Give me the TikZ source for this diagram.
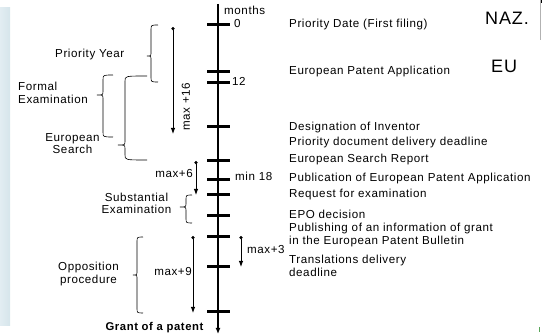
\documentclass[tikz,border=0pt]{standalone}
\usepackage{fontspec}
\setmainfont[LetterSpace=5]{Liberation Sans}
\usetikzlibrary{arrows.meta}
\newcommand\mybrace[6]{%
  \draw[brc] (#1,#4) .. controls (#2,#4) .. (#2,{#4+5}) -- (#2,{#5-4})
    .. controls (#2,#5) .. (#3,#5) .. controls (#2,#5) .. (#2,{#5+4})
    -- (#2,{#6-5}) .. controls (#2,#6) .. (#1,#6);}
\begin{document}
\begin{tikzpicture}[x=1pt,y=-1pt,
  font=\fontsize{11.6}{12.5}\selectfont,
  txt/.style={inner sep=0pt, anchor=mid west},
  mtxt/.style={inner sep=0pt, anchor=west, align=left},
  ctxt/.style={inner sep=0pt, align=center},
  tick/.style={line width=3pt},
  brc/.style={line width=0.6pt},
  span/.style={line width=0.9pt, {Circle[length=3.2pt]}-{Latex[length=6pt,width=4.5pt]}},
  big/.style={inner sep=0pt, font=\fontsize{18}{20}\selectfont}]
\useasboundingbox (0,0) rectangle (542,336);
\fill[left color={rgb,255:red,226;green,237;blue,242}, right color={rgb,255:red,214;green,229;blue,235}] (0,8) rectangle (10,326);
\draw[gray!60, line width=0.5pt] (540,0) -- (540,40);
\draw[line width=1pt] (541.5,0) -- (541.5,3);
\draw[gray!70!green, line width=1pt] (539,327) -- (539,332);
% main axis
\coordinate (atop) at (218,4);
\coordinate (abot) at (218,334);
\draw[line width=1.8pt, -{Latex[length=6pt,width=5pt]}] (atop) -- (abot);
\foreach \y in {25,72,83,127,161,180,195,216,237,267,312}
  \draw[tick] (207,\y) -- (230,\y);
% axis labels
\node[txt] (months) at (224,12) {months};
\node[txt] (m0) at (234,25) {0};
\node[txt] (m12) at (232,83) {12};
\node[txt] (m18) at (235,178) {min 18};
% right texts
\node[txt] (t1) at (289,25) {Priority Date (First filing)};
\node[big, anchor=mid west] (naz) at (485,22) {NAZ.};
\node[txt] (t2) at (289,72) {European Patent Application};
\node[big, anchor=mid west] (eu) at (491,70) {EU};
\node[txt] (t3) at (289,128) {Designation of Inventor};
\node[txt] (t4) at (289,143) {Priority document delivery deadline};
\node[txt] (t5) at (289,160) {European Search Report};
\node[txt] (t6) at (289,179) {Publication of European Patent Application};
\node[txt] (t7) at (289,195) {Request for examination};
\node[txt] (t8) at (289,216) {EPO decision};
\node[mtxt] (t9) at (289,235) {Publishing of an information of grant\\in the European Patent Bulletin};
\node[mtxt] (t10) at (289,266) {Translations delivery\\deadline};
% left labels
\node[txt] (py) at (55,55) {Priority Year};
\node[mtxt] (fe) at (18,93) {Formal\\Examination};
\node[ctxt] (es) at (72.5,143.5) {European\\Search};
\node[ctxt] (se) at (136.5,203.5) {Substantial\\Examination};
\node[ctxt] (op) at (88.5,274) {Opposition\\procedure};
\node[ctxt, font=\fontsize{11.3}{12.5}\selectfont\bfseries] (gr) at (154.5,328) {Grant of a patent};
% braces
\mybrace{158}{151}{147}{25}{56}{82}
\mybrace{113}{103}{97}{75}{95}{137}
\mybrace{147}{125}{118}{76}{145}{160}
\mybrace{192}{186}{180}{195}{207}{223}
\mybrace{143}{137}{133}{237}{275}{313}
% span arrows
\coordinate (a16s) at (173,27); \coordinate (a16e) at (173,134);
\draw[span] (a16s) -- (a16e);
\node[inner sep=0pt, rotate=90] (l16) at (186,107) {max +16};
\coordinate (a6s) at (196,161); \coordinate (a6e) at (196,195);
\draw[span] (a6s) -- (a6e);
\node[inner sep=0pt, anchor=mid east] (l6) at (193,175) {max+6};
\coordinate (a9s) at (193,236); \coordinate (a9e) at (193,313);
\draw[span] (a9s) -- (a9e);
\node[inner sep=0pt, anchor=mid east] (l9) at (192,273) {max+9};
\coordinate (a3s) at (241,236); \coordinate (a3e) at (241,267);
\draw[span] (a3s) -- (a3e);
\node[inner sep=0pt, anchor=mid west] (l3) at (247,251) {max+3};
\end{tikzpicture}
\end{document}
